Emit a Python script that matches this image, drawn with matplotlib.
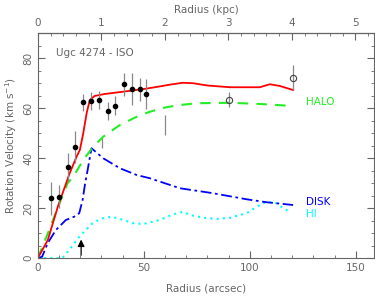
import matplotlib
matplotlib.use('Agg')
import matplotlib.pyplot as plt
import numpy as np

# observed rotation curve (arcsec, km/s)
r_obs = [6.1, 10.1, 14.0, 17.6, 21.5, 25.2, 28.9, 33.2, 36.6, 40.6, 44.5, 48.0, 51.1]
v_obs = [23.9, 24.5, 36.5, 44.5, 62.3, 62.9, 63.3, 58.9, 60.9, 69.5, 67.6, 67.5, 65.5]
e_obs = [6.7, 4.6, 5.5, 6.5, 3.5, 3.5, 3.5, 3.6, 3.8, 4.7, 6.5, 4.5, 6.0]
# HI points (open circles)
r_hi = [90.2, 120.3]
v_hi = [63.3, 72.1]
e_hi = [3.0, 5.0]
# bars drawn without a marker
r_bar = [30.3, 60.2]
v_bar = [45.9, 53.2]
e_bar = [2.0, 4.0]

# model components
r_tot = [0, 4.7, 9.4, 15.0, 18.5, 19.8, 21.4, 23.0, 24.5, 26.7, 31.5, 40, 50, 56.6, 62, 68.4, 73.3, 80, 90.6, 104.7, 109.4, 114.2, 120.4]
v_tot = [0, 7.2, 20.5, 33.9, 41.0, 43.2, 49.9, 57.9, 63.2, 64.8, 65.6, 66.5, 67.6, 68.5, 69.3, 70.1, 69.9, 69.0, 68.3, 68.3, 69.5, 68.8, 67.2]
r_halo = [0, 5, 10.8, 14.0, 16.7, 21.4, 26.1, 30.8, 38.7, 46.6, 52.8, 60, 67, 75, 90.6, 105, 120.3]
v_halo = [0, 10.5, 23.2, 29.9, 32.5, 39.2, 44.5, 48.5, 53.2, 56.5, 58.5, 60.2, 61.2, 61.9, 62.1, 61.6, 60.8]
r_disk = [0, 2, 4.6, 8.5, 13.2, 17.1, 19.5, 21.1, 22.3, 23.0, 25.3, 30.8, 38.7, 46.6, 52.8, 67, 82.7, 98.4, 107.9, 120.4]
v_disk = [0, 0.5, 5.9, 11.2, 15.2, 16.5, 17.9, 23.2, 29.9, 33.0, 43.9, 39.9, 35.9, 33.2, 31.9, 27.9, 25.9, 23.5, 22.3, 21.2]
r_gas = [0, 11.6, 14.8, 19.5, 25.8, 30, 34.7, 40, 45, 49.7, 57.5, 63, 68.5, 71.7, 78, 84.3, 90.6, 98.4, 104.7, 107.9, 112.6, 115.7, 118.9]
v_gas = [0, 0, 3.2, 8.5, 13.9, 15.8, 16.5, 15.3, 13.9, 13.6, 15.2, 17.2, 18.5, 17.2, 16.1, 15.6, 16.1, 17.9, 21.2, 22.5, 21.9, 19.9, 18.5]

grey = '#666666'
fs = 7.5

fig = plt.figure(figsize=(3.75, 3.0), dpi=100)
ax = fig.add_axes([0.101, 0.14, 0.896, 0.75])

ax.plot(r_gas, v_gas, color='cyan', ls=(0, (1, 2)), lw=1.5)
ax.plot(r_disk, v_disk, color='blue', ls=(0, (6, 2, 1.5, 2)), lw=1.3)
ax.plot(r_halo, v_halo, color='#22ee22', ls=(0, (5, 4)), lw=1.5)
ax.plot(r_tot, v_tot, color='red', lw=1.3)

ax.errorbar(r_obs, v_obs, yerr=e_obs, fmt='o', color='black', ms=3,
            ecolor='#888888', elinewidth=0.9, capsize=0)
ax.errorbar(r_hi, v_hi, yerr=e_hi, fmt='o', mfc='none', mec='#444444', ms=4.5,
            mew=0.8, ecolor='#888888', elinewidth=0.9, capsize=0)
ax.errorbar(r_bar, v_bar, yerr=e_bar, fmt='none', ecolor='#888888',
            elinewidth=0.9, capsize=0)

# arrow marking a radius
ax.annotate('', xy=(20.4, 8.5), xytext=(20.4, 0),
            arrowprops=dict(arrowstyle='-|>', color='black', lw=0.9,
                            mutation_scale=10))

ax.text(8.5, 82, 'Ugc 4274 - ISO', color=grey, fontsize=fs, va='center')
ax.text(126.4, 62.5, 'HALO', color='#22ee22', fontsize=fs, va='center')
ax.text(126.4, 22.5, 'DISK', color='blue', fontsize=fs, va='center')
ax.text(126.4, 17.6, 'HI', color='cyan', fontsize=fs, va='center')

ax.set_xlim(0, 158.5)
ax.set_ylim(0, 90)
ax.set_xticks([0, 50, 100, 150])
ax.set_xticks(np.arange(0, 160, 10), minor=True)
ax.set_yticks([0, 20, 40, 60, 80])
ax.set_yticks(np.arange(0, 91, 5), minor=True)
ax.tick_params(which='both', direction='in', colors=grey, labelsize=fs,
               right=True, top=False)
ax.tick_params(which='major', length=5)
ax.tick_params(which='minor', length=2.5)
plt.setp(ax.get_yticklabels(), rotation=90, va='center')
for s in ax.spines.values():
    s.set_color(grey)

ax.set_xlabel('Radius (arcsec)', color=grey, fontsize=fs, labelpad=8)
ax.set_ylabel('Rotation Velocity (km s$^{-1}$)', color=grey, fontsize=fs, labelpad=3)

top = ax.secondary_xaxis('top', functions=(lambda x: x / 29.95, lambda k: k * 29.95))
top.set_xticks([0, 1, 2, 3, 4, 5])
top.set_xticks(np.arange(0, 5.3, 0.2), minor=True)
top.tick_params(which='both', direction='in', colors=grey, labelsize=fs)
top.tick_params(which='major', length=5)
top.tick_params(which='minor', length=2.5)
top.set_xlabel('Radius (kpc)', color=grey, fontsize=fs, labelpad=4)

fig.savefig('out.png', dpi=100)
